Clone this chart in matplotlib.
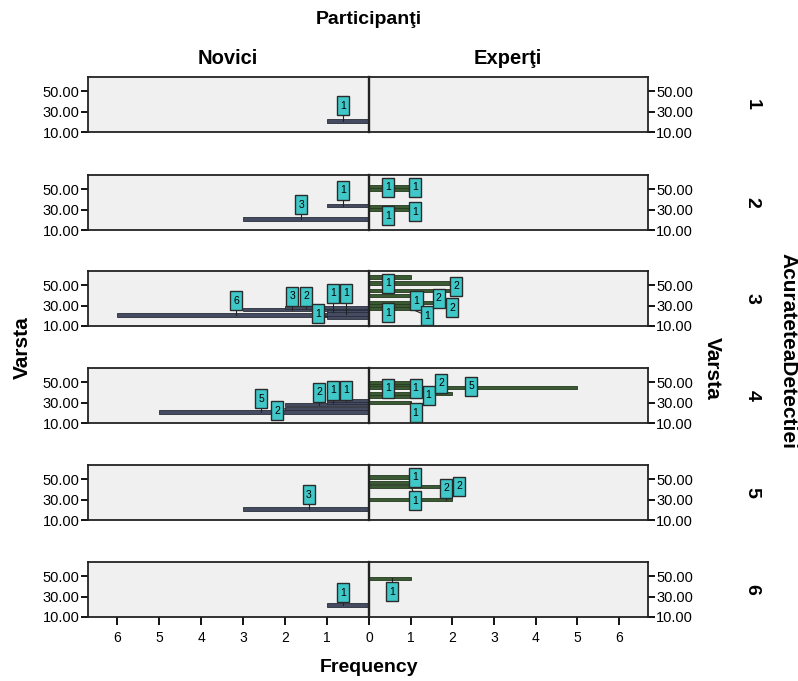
import matplotlib.pyplot as plt
from matplotlib.patches import Rectangle

plt.rcParams['font.family'] = ['Liberation Sans', 'DejaVu Sans']

# rows = AcurateteaDetectiei 1..6 ; each bar is (age, count)
rows = ['1', '2', '3', '4', '5', '6']

novici_age = [[21], [34, 21], [21, 26, 28, 19, 24, 22], [21, 24, 28, 30, 32], [21], [22]]
novici_cnt = [[1], [1, 3], [6, 3, 2, 1, 1, 1], [5, 2, 2, 1, 1], [3], [1]]

experti_age = [[], [52, 50, 33, 30], [58, 30, 40, 27, 45, 33, 52],
               [50, 47, 36, 39, 45, 30], [52, 30, 43, 47], [48]]
experti_cnt = [[], [1, 1, 1, 1], [1, 1, 1, 1, 2, 2, 2],
               [1, 1, 1, 2, 5, 1], [1, 2, 2, 1], [1]]

# where SPSS put the value labels (frequency, age) - one per bar
novici_lbl = [[(0.62, 36)], [(0.62, 49), (1.62, 35)],
              [(3.17, 35), (1.83, 39), (1.5, 39), (1.21, 22), (0.86, 42), (0.55, 42)],
              [(2.57, 34), (2.19, 22), (1.19, 40), (0.86, 42), (0.55, 42)],
              [(1.43, 35)], [(0.62, 34)]]
experti_lbl = [[], [(0.45, 52), (1.1, 52), (0.45, 24), (1.1, 28)],
               [(0.45, 52), (0.45, 23), (1.14, 35), (1.4, 20), (1.67, 37), (2.0, 28), (2.1, 49)],
               [(0.45, 44), (1.12, 44), (1.43, 37), (1.74, 49), (2.45, 46), (1.12, 20)],
               [(1.1, 52), (1.86, 41), (2.17, 43), (1.1, 29)], [(0.55, 35)]]

yticks = [10, 30, 50]
xticks = [0, 1, 2, 3, 4, 5, 6]

W, H = 798, 681
fig = plt.figure(figsize=(W / 100, H / 100), dpi=100)

tops = [77, 175, 271, 368, 465, 562]
ph = 55
x_left, x_mid, x_right = 88, 369, 648
bg = '#f0f0f0'
lbl_fc = '#40c8c8'


def add_labels(ax, ages, cnts, lbls, sign):
    for a, c, (lx, ly) in zip(ages, cnts, lbls):
        bx = sign * min(lx, c)
        ax.plot([sign * lx, bx], [ly, a], color='#222222', lw=0.8, zorder=3)
        ax.add_patch(Rectangle((sign * lx - 0.145, ly - 9.5), 0.29, 19, fc=lbl_fc,
                               ec='#2a2a2a', lw=1.0, zorder=4))
        ax.text(sign * lx, ly, str(c), ha='center', va='center', fontsize=7.5, zorder=5)


for i, r in enumerate(rows):
    bottom = 1 - (tops[i] + ph) / H
    axl = fig.add_axes([x_left / W, bottom, (x_mid - x_left) / W, ph / H])
    axr = fig.add_axes([x_mid / W, bottom, (x_right - x_mid) / W, ph / H])
    for ax in (axl, axr):
        ax.set_facecolor(bg)
        ax.set_ylim(10, 64)
        ax.set_yticks(yticks)
        for s in ax.spines.values():
            s.set_linewidth(1.3)
            s.set_color('#222222')
    axl.set_xlim(-6.7, 0)
    axr.set_xlim(0, 6.7)

    axl.barh(novici_age[i], [-c for c in novici_cnt[i]], height=3.4, color='#454c62',
             edgecolor='#2a2e3a', lw=0.6, zorder=2)
    axr.barh(experti_age[i], experti_cnt[i], height=3.4, color='#3a5a34',
             edgecolor='#26391f', lw=0.6, zorder=2)
    add_labels(axl, novici_age[i], novici_cnt[i], novici_lbl[i], -1)
    add_labels(axr, experti_age[i], experti_cnt[i], experti_lbl[i], 1)

    axl.set_yticklabels(['%.2f' % v for v in yticks], fontsize=10.5)
    axl.tick_params(axis='y', length=5, width=1.3, pad=1)
    axr.yaxis.tick_right()
    axr.set_yticklabels(['%.2f' % v for v in yticks], fontsize=10.5)
    axr.tick_params(axis='y', length=5, width=1.3, pad=1)
    axr.spines['left'].set_linewidth(1.7)

    if i == len(rows) - 1:
        axl.set_xticks([-t for t in xticks[1:]])
        axl.set_xticklabels([str(t) for t in xticks[1:]], fontsize=10)
        axr.set_xticks(xticks)
        axr.set_xticklabels([str(t) for t in xticks], fontsize=10)
        for ax in (axl, axr):
            ax.tick_params(axis='x', length=6, width=1.3, pad=4)
    else:
        axl.set_xticks([])
        axr.set_xticks([])

    fig.text(752 / W, 1 - (tops[i] + ph / 2) / H, r, rotation=-90, fontsize=14,
             fontweight='bold', ha='center', va='center')

fig.text(x_mid / W, 1 - 20 / H, 'Participanţi', fontsize=14, fontweight='bold', ha='center', va='center')
fig.text(228 / W, 1 - 58 / H, 'Novici', fontsize=14.5, fontweight='bold', ha='center', va='center')
fig.text(508 / W, 1 - 58 / H, 'Experţi', fontsize=14.5, fontweight='bold', ha='center', va='center')
fig.text(x_mid / W, 1 - 667 / H, 'Frequency', fontsize=14, fontweight='bold', ha='center', va='center')
fig.text(22 / W, 1 - 348 / H, 'Varsta', fontsize=15, fontweight='bold', rotation=90, ha='center', va='center')
fig.text(712 / W, 1 - 368 / H, 'Varsta', fontsize=15, fontweight='bold', rotation=-90, ha='center', va='center')
fig.text(788 / W, 1 - 351 / H, 'AcurateteaDetectiei', fontsize=15, fontweight='bold', rotation=-90,
         ha='center', va='center')

fig.savefig('out.png', dpi=100)
